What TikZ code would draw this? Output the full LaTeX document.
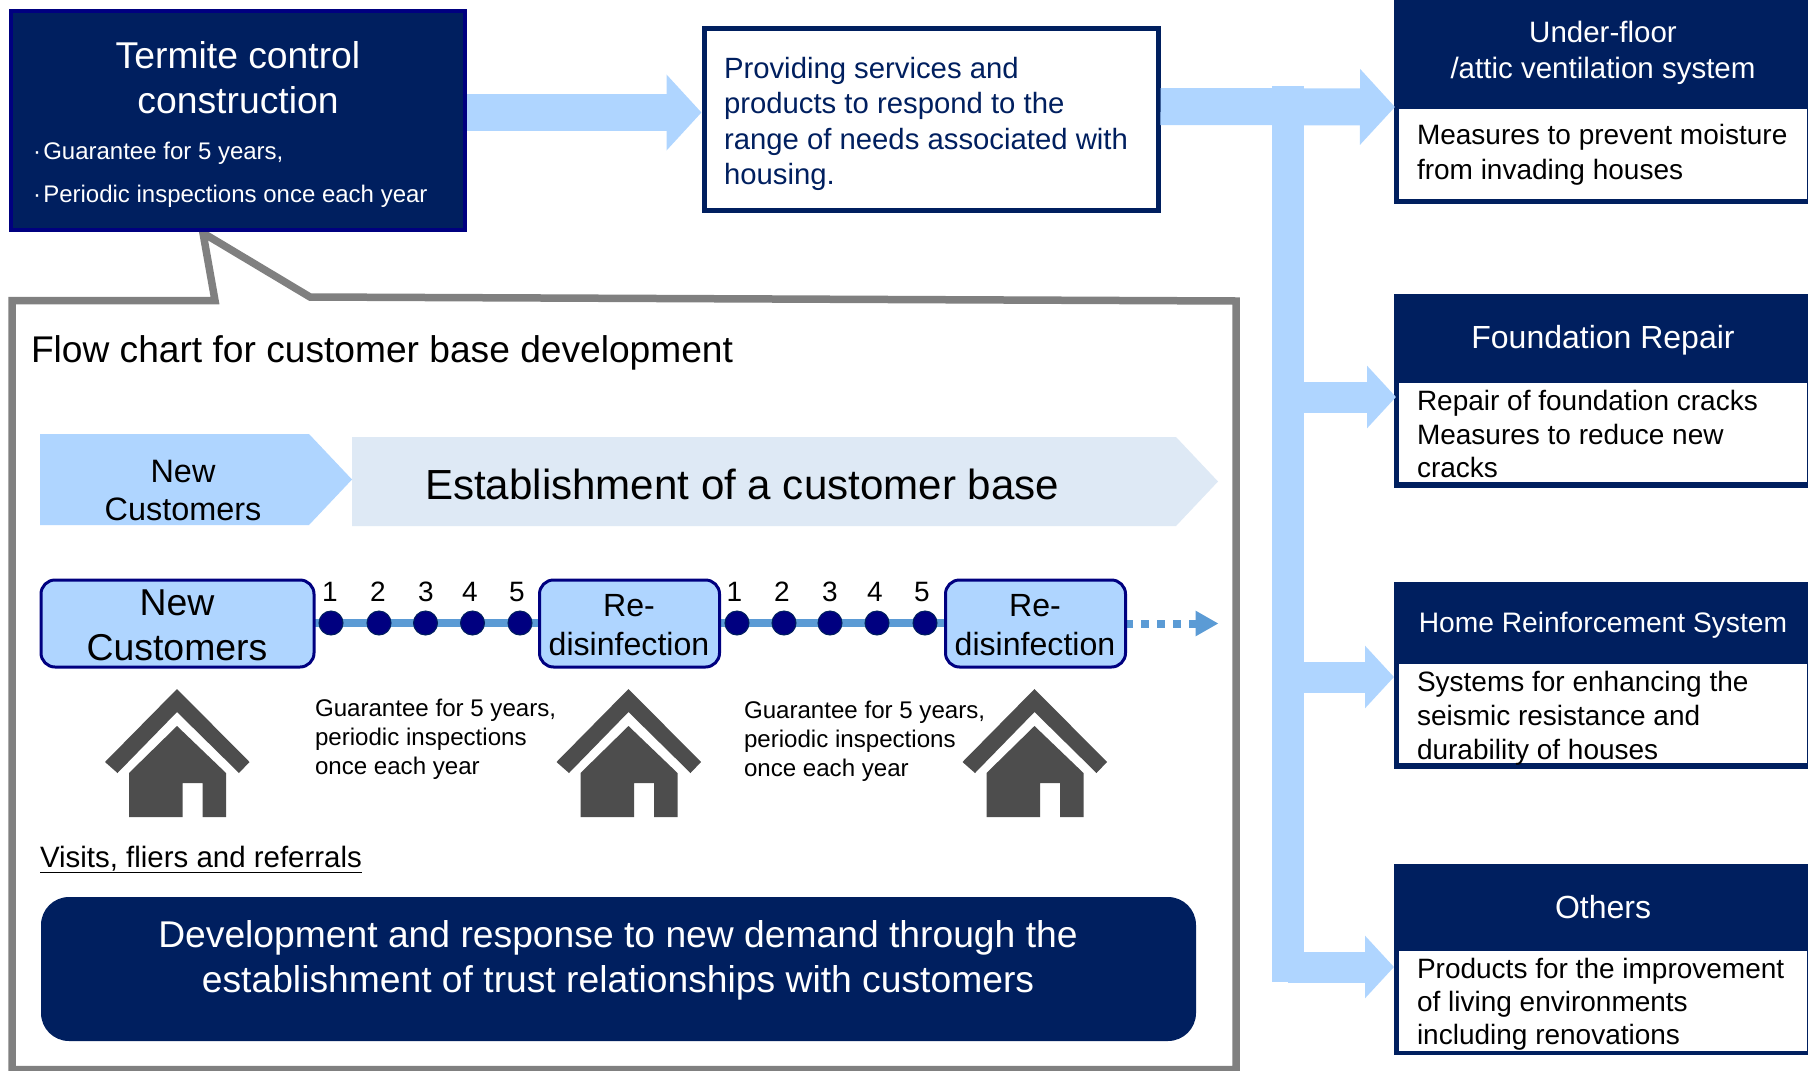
\documentclass[tikz,border=0pt]{standalone}
\usepackage{fontspec}
\setmainfont{Liberation Sans}
\usetikzlibrary{arrows.meta}
\definecolor{navyfill}{HTML}{001F5F}
\definecolor{navyline}{HTML}{000080}
\definecolor{paleblue}{HTML}{AFD5FF}
\definecolor{paleband}{HTML}{DEE9F5}
\definecolor{stepblue}{HTML}{5B9BD5}
\definecolor{housegray}{HTML}{4D4D4D}
\newcommand{\fsz}[2]{\fontsize{#1}{#2}\selectfont}
\tikzset{
	housepic/.pic={
		\fill[housegray] (0,0) -- (72.5,73) -- (62,84) -- (0,23) -- (-59.5,84) -- (-72,73) -- cycle;
		\fill[housegray] (0,37) -- (49,84) -- (49,128) -- (25.5,128) -- (25.5,94) -- (5.7,94) -- (5.7,128) -- (-48,128) -- (-48,84) -- cycle;
	}
}

\begin{document}
\begin{tikzpicture}[x=1pt,y=-1pt]
	\tikzstyle{every node}=[inner sep=0pt,outer sep=0pt]
	\tikzstyle{navytext}=[text=white,align=center]
	\tikzstyle{panel}=[fill=navyfill,minimum width=414pt,anchor=north west]
	\tikzstyle{bodybox}=[fill=white,minimum width=408pt,anchor=north west]
	\tikzstyle{bodytext}=[anchor=west,align=left]
	\tikzstyle{bigarrow}=[draw=paleblue,-{Triangle[length=35pt,width=74pt]}]
	\tikzstyle{sidearrow}=[draw=paleblue,line width=31pt,-{Triangle[length=29pt,width=61pt]}]
	\tikzstyle{stepbox}=[draw=navyline,fill=paleblue,line width=3pt,rounded corners=14pt,minimum height=87pt]
	\tikzstyle{stepdot}=[circle,fill=navyline,draw=navyfill,line width=1pt,minimum size=24pt]
	\tikzstyle{stepnum}=[font=\fsz{28}{28}]
	\tikzstyle{guarantee}=[anchor=west,align=left,font=\fsz{24.1}{29}]
	\useasboundingbox (0,0) rectangle (1808,1071);

	\draw[draw=black!50,fill=white,line width=7.5pt,miter limit=10] (12,300.5) -- (215,300.5) -- (203,233) -- (310,297) -- (1236,301) -- (1236,1069.5) -- (12,1069.5) -- cycle;

	\node[draw=navyline,fill=navyfill,line width=4pt,outer sep=2pt,minimum width=454pt,minimum height=219pt] (termite) at (238,120.5) {};
	\node[navytext,font=\fsz{37.3}{45}] (termitetitle) at (238,78) {Termite control\\construction};
	\node[anchor=west,text=white,align=left,font=\fsz{24}{43}] (termitelist) at (33,175) {·\kern2.3pt Guarantee for 5 years,\\·\kern2.3pt Periodic inspections once each year};

	\node[draw=navyfill,fill=white,line width=5pt,outer sep=2.5pt,minimum width=454pt,minimum height=182pt] (provide) at (931,119.5) {};
	\node[anchor=west,align=left,text=navyfill,font=\fsz{29.3}{35.2}] (providetext) at (724,124) {Providing services and\\products to respond to the\\range of needs associated with\\housing.};

	\node[panel,minimum height=204pt] (panela) at (1394,0) {};
	\node[bodybox,minimum height=90pt] (bodya) at (1399,109) {};
	\node[navytext,font=\fsz{29.5}{36}] (heada) at (1603,52.5) {Under-floor\\/attic ventilation system};
	\node[bodytext,font=\fsz{28}{34.6}] (texta) at (1417,154.5) {Measures to prevent moisture\\from invading houses};

	\node[panel,minimum height=194pt] (panelb) at (1394,294) {};
	\node[bodybox,minimum height=99pt] (bodyb) at (1399,383) {};
	\node[navytext,font=\fsz{32}{36}] (headb) at (1603,340) {Foundation Repair};
	\node[bodytext,font=\fsz{28}{33.2}] (textb) at (1417,434) {Repair of foundation cracks\\Measures to reduce new\\cracks};

	\node[panel,minimum height=187pt] (panelc) at (1394,582) {};
	\node[bodybox,minimum height=99pt] (bodyc) at (1399,664) {};
	\node[navytext,font=\fsz{28.2}{36}] (headc) at (1603,625.5) {Home Reinforcement System};
	\node[bodytext,font=\fsz{28}{34}] (textc) at (1417,718) {Systems for enhancing the\\seismic resistance and\\durability of houses};

	\node[panel,minimum height=191pt] (paneld) at (1394,864) {};
	\node[bodybox,minimum height=100pt] (bodyd) at (1399,951) {};
	\node[navytext,font=\fsz{32}{36}] (headd) at (1603,907) {Others};
	\node[bodytext,font=\fsz{28}{33.2}] (textd) at (1417,1004) {Products for the improvement\\of living environments\\including renovations};

	\coordinate (tipa) at (1395,107);
	\coordinate (tipb) at (1396,397);
	\coordinate (tipc) at (1394,677);
	\coordinate (tipd) at (1394,967);
	\coordinate (trunktop) at (1288,86);
	\coordinate (trunkend) at (1288,982);
	\coordinate (rootb) at (1288,397);
	\coordinate (rootc) at (1288,677);
	\coordinate (rootd) at (1288,967);

	\draw[bigarrow,line width=37pt] (termite.east |- 0,112.5) -- (provide.west |- 0,112.5);
	\draw[bigarrow,line width=37pt] (provide.east |- 0,106.5) -- (tipa);
	\draw[draw=paleblue,line width=31.5pt] (trunktop) -- (trunkend);
	\draw[sidearrow] (rootb) -- (tipb);
	\draw[sidearrow] (rootc) -- (tipc);
	\draw[sidearrow] (rootd) -- (tipd);

	\node[font=\fsz{37.15}{37.15},anchor=west] (flowtitle) at (31,352.5) {Flow chart for customer base development};

	\fill[paleband] (352,437) -- (1176,437) -- (1218,481.5) -- (1176,526) -- (352,526) -- cycle;
	\fill[paleblue] (40,434) -- (309,434) -- (352,479.5) -- (309,525) -- (40,525) -- cycle;
	\node[align=center,font=\fsz{32.4}{37.5}] (newband) at (183,490.5) {New\\Customers};
	\node[anchor=west,font=\fsz{42.1}{42.1}] (baseband) at (425,484.5) {Establishment of a customer base};

	\draw[draw=stepblue,line width=8pt] (300,623) -- (950,623);
	\draw[draw=stepblue,line width=8pt,dash pattern=on 8pt off 8pt,-{Triangle[length=23pt,width=24pt]}] (1125,623.5) -- (1218.5,623.5);

	\node[stepbox,minimum width=273pt] (customers) at (177.5,623.5) {};
	\node[align=center,font=\fsz{37.4}{45}] (customerstext) at (177,625) {New\\Customers};
	\node[stepbox,minimum width=180pt] (refirst) at (629.5,623.5) {};
	\node[align=center,font=\fsz{32.1}{39}] (refirsttext) at (629,625.5) {Re-\\disinfection};
	\node[stepbox,minimum width=180pt] (resecond) at (1035.5,623.5) {};
	\node[align=center,font=\fsz{32.1}{39}] (resecondtext) at (1035,625.5) {Re-\\disinfection};

	\foreach \x/\lx [count=\i] in {331/330,379/378,425.5/426,472.5/470,520/517} {
		\node[stepdot] (dota\i) at (\x,623) {};
		\node[stepnum] (numa\i) at (\lx,592) {\i};
	}
	\foreach \x/\lx [count=\i] in {737/734.5,784/782,830/830,877/875,925/922} {
		\node[stepdot] (dotb\i) at (\x,623) {};
		\node[stepnum] (numb\i) at (\lx,592) {\i};
	}

	\pic at (177,689) {housepic};
	\pic at (628.5,689) {housepic};
	\pic at (1034.5,689) {housepic};

	\node[guarantee] (guaranteea) at (315,739.5) {Guarantee for 5 years,\\periodic inspections\\once each year};
	\node[guarantee] (guaranteeb) at (744,741) {Guarantee for 5 years,\\periodic inspections\\once each year};

	\node[anchor=west,font=\fsz{29.45}{29.45}] (visits) at (40,859.5) {\underline{Visits, fliers and referrals}};

	\node[fill=navyfill,rounded corners=28pt,minimum width=1155pt,minimum height=144pt] (demand) at (618.5,969) {};
	\node[navytext,font=\fsz{37.25}{44.5}] (demandtext) at (618,960.5) {Development and response to new demand through the\\establishment of trust relationships with customers};
\end{tikzpicture}
\end{document}
